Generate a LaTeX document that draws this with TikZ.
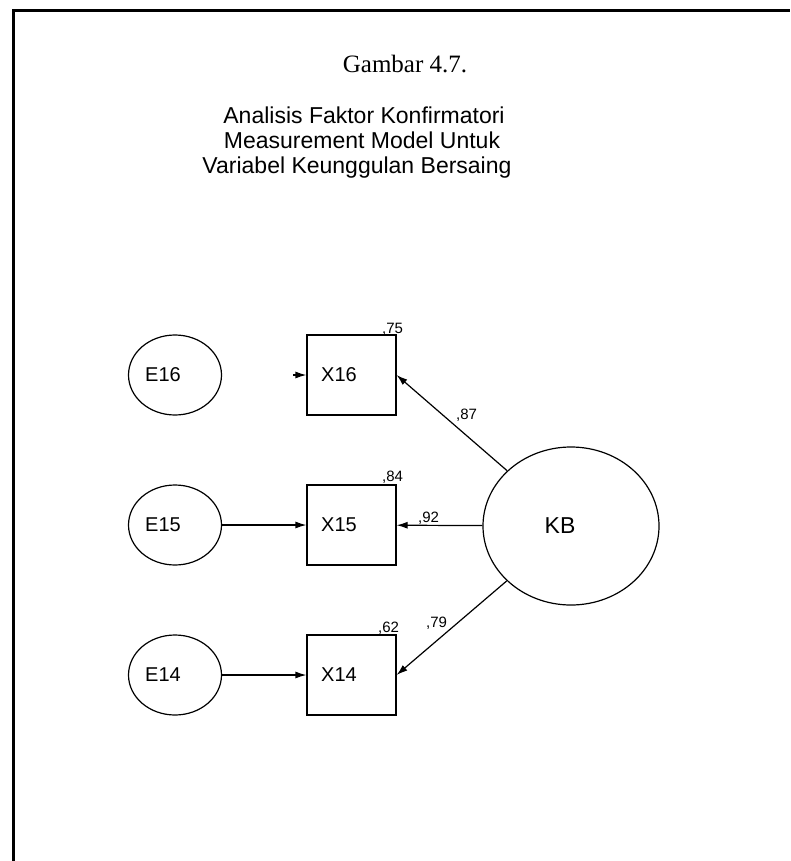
\documentclass[tikz,border=0pt]{standalone}
\usepackage{fontspec}
\setmainfont{Liberation Serif}
\newfontfamily\arialf{Liberation Sans}
\usetikzlibrary{shapes.geometric,arrows.meta}
\begin{document}
\begin{tikzpicture}[x=1pt,y=-1pt,
  frameline/.style={line width=2.6pt},
  lat/.style={ellipse,draw,line width=1.2pt,inner sep=0pt,minimum width=93pt,minimum height=80pt,font=\arialf\fontsize{20}{24}\selectfont},
  bigl/.style={ellipse,draw,line width=1.2pt,inner sep=0pt,minimum width=176pt,minimum height=158pt,font=\arialf\fontsize{23}{26}\selectfont},
  obs/.style={rectangle,draw,line width=1.2pt,inner sep=0pt,minimum width=89pt,minimum height=80pt,font=\arialf\fontsize{20}{24}\selectfont},
  coef/.style={font=\arialf\fontsize{15}{18}\selectfont,inner sep=0pt,anchor=base west},
  sub/.style={font=\arialf\fontsize{23}{25}\selectfont,inner sep=0pt,anchor=base},
  conn/.style={line width=1.2pt,-{Latex[length=11pt,width=7pt]}}
]
\useasboundingbox (0,0) rectangle (790,861);
\draw[frameline] (13.5,861) -- (13.5,10.5) -- (790,10.5);

\node (title) [font=\fontsize{25}{30}\selectfont,inner sep=0pt,anchor=base] at (405,73) {Gambar 4.7.};
\node (sub1) [sub] at (364,124) {Analisis Faktor Konfirmatori};
\node (sub2) [sub] at (362,149) {Measurement Model Untuk};
\node (sub3) [sub] at (357,174) {Variabel Keunggulan Bersaing};

\node (E16) [lat] at (175,375) {E16\hspace*{24pt}};
\node (E15) [lat] at (175,525) {E15\hspace*{24pt}};
\node (E14) [lat] at (175,675) {E14\hspace*{24pt}};

\node (X16) [obs] at (351.5,375) {X16\hspace*{25pt}};
\node (X15) [obs] at (351.5,525) {X15\hspace*{25pt}};
\node (X14) [obs] at (351.5,675) {X14\hspace*{25pt}};

\node (KB) [bigl] at (571,526) {KB\hspace*{22pt}};

\node (c75) [coef] at (382,333) {,75};
\node (c84) [coef] at (382,481) {,84};
\node (c62) [coef] at (378,632) {,62};
\node (c92) [coef] at (418,522) {,92};
\node (c87) [coef] at (456,419) {,87};
\node (c79) [coef] at (426,627) {,79};

\coordinate (e16tail) at (293,375);
\draw[conn] (e16tail) -- (X16);
\draw[conn] (E15) -- (X15);
\draw[conn] (E14) -- (X14);
\draw[conn] (KB) -- (X16.east);
\draw[conn] (KB) -- (X15);
\draw[conn] (KB) -- (X14.east);
\end{tikzpicture}
\end{document}
